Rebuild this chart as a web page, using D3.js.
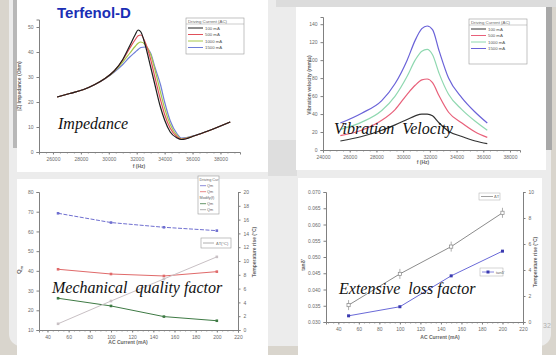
<!DOCTYPE html>
<html>
<head>
<meta charset="utf-8">
<script src="https://cdn.jsdelivr.net/npm/d3@7"></script>
<style>
  body { margin: 0; background: #d9d5cd; }
  svg { display: block; font-family: "Liberation Sans", Arial, sans-serif; }
</style>
</head>
<body>
<svg id="slide" width="556" height="355"></svg>
<script>
// ---- impedance panel (top left) ----
const zFreq = [26300, 27200, 28200, 29000, 29700, 30400, 31000, 31500, 31900, 32100, 32300, 32600, 33000, 33300, 33700, 34000, 34400, 34900, 35200, 36200, 37200, 38700];
const z100  = [22, 23.4, 25, 27, 29.3, 32.5, 37, 42.5, 47, 48.8, 48, 43, 34, 27, 18, 12.8, 8, 5.6, 5.0, 6.6, 8.6, 12];
const z500  = [22, 23.4, 25, 27, 29.3, 32.5, 36.8, 41.5, 45, 46.5, 46.8, 44, 37, 30, 21, 15, 9.5, 6, 5.1, 6.6, 8.6, 12];
const z1000 = [22, 23.4, 25, 27, 29.3, 32.3, 36, 39.5, 42.3, 43.5, 44, 43, 39, 33, 24, 17.5, 11, 6.5, 5.3, 6.6, 8.6, 12];
const z1500 = [22, 23.4, 25, 27, 29.2, 32, 35, 38, 40, 41, 41.8, 42, 39.5, 34, 27, 20, 12.5, 7.2, 5.6, 6.7, 8.6, 12];
const zFreqTicks = [26000, 28000, 30000, 32000, 34000, 36000, 38000];
const zTicks = [0, 10, 20, 30, 40, 50];

// ---- vibration velocity panel (top right) ----
const vFreq = [25300, 26900, 28400, 29400, 30300, 30900, 31400, 31800, 32200, 32700, 33400, 34400, 35400, 36300];
const v100  = [10, 15, 22, 28, 34, 38, 40, 40, 38, 30, 21, 15, 10, 7];
const v500  = [16, 22, 33, 45, 62, 72, 78, 79, 75, 60, 42, 30, 20, 14];
const v1000 = [23, 31, 44, 60, 82, 100, 110, 112, 106, 85, 62, 45, 32, 22];
const v1500 = [30, 41, 55, 74, 100, 122, 135, 138, 134, 110, 80, 58, 42, 30];
const vFreqTicks = [24000, 26000, 28000, 30000, 32000, 34000, 36000, 38000];
const vTicks = [0, 20, 40, 60, 80, 100, 120, 140];

const currentNames = ["100 mA", "500 mA", "1000 mA", "1500 mA"];
const seriesColors = ["#1e1e1e", "#e0505a", "#a8c848", "#6f7fd8"];
const vColors = ["#333333", "#e8607a", "#8fd8b0", "#6a62d8"];

// ---- mechanical quality factor panel (bottom left) ----
const acCurrent = [50, 100, 150, 200];
const qmA = [69.2, 64.5, 62.1, 60.4];
const qmB = [40.8, 38.4, 37.4, 39.6];
const qmC = [26.1, 22.2, 16.8, 14.7];
const qmTemp = [0.9, 4.2, 7.4, 10.6];
const currentTicks = [40, 60, 80, 100, 120, 140, 160, 180, 200, 220];
const qmTicks = [10, 20, 30, 40, 50, 60, 70, 80];
const tempTicksQ = [0, 2, 4, 6, 8, 10, 12, 14, 16, 18, 20];

// ---- extensive loss factor panel (bottom right) ----
const lossTan = [0.0319, 0.0347, 0.0442, 0.0518];
const lossTemp = [1.3, 3.7, 5.8, 8.4];
const lossTicks = [0.030, 0.035, 0.040, 0.045, 0.050, 0.055, 0.060, 0.065, 0.070];
const tempTicksL = [0, 2, 4, 6, 8, 10];

const svg = d3.select("#slide");

// slide card and panel frames
svg.append("rect").attr("x", 9).attr("y", -14).attr("width", 542).attr("height", 360)
  .attr("rx", 12).attr("fill", "#ececec");
svg.append("rect").attr("x", 546).attr("y", 0).attr("width", 6).attr("height", 150).attr("fill", "#a8a8a8");
svg.append("rect").attr("x", 13).attr("y", 0).attr("width", 4).attr("height", 148).attr("fill", "#b8b8b8");
svg.append("rect").attr("x", 268).attr("y", 140).attr("width", 29).attr("height", 36).attr("fill", "#dedede");
svg.append("rect").attr("x", 276).attr("y", 0).attr("width", 280).attr("height", 7).attr("fill", "#dcdcdc");

const panels = [[17, 0, 251, 172], [296, 7, 250, 163], [17, 179, 251, 176], [298, 178, 244, 177]];
svg.selectAll("rect.panel").data(panels).join("rect").attr("class", "panel")
  .attr("x", d => d[0]).attr("y", d => d[1]).attr("width", d => d[2]).attr("height", d => d[3])
  .attr("fill", "#ffffff");

function styleAxis(g) {
  g.attr("font-size", 5).attr("font-family", "Liberation Sans, Arial, sans-serif");
  g.selectAll("path, line").attr("stroke", "#808080");
  g.selectAll("text").attr("fill", "#6a6a6a");
}

function minorTicks(g, scale, y, n) {
  g.append("g").attr("transform", `translate(0,${y})`)
    .call(d3.axisBottom(scale).ticks(n).tickSize(1.5).tickFormat(""))
    .call(a => a.select(".domain").remove())
    .selectAll("line").attr("stroke", "#999");
}

function legendBox(g, x, y, w, h, title, names, colors) {
  g.append("rect").attr("x", x).attr("y", y).attr("width", w).attr("height", h)
    .attr("fill", "#fff").attr("stroke", "#9a9a9a").attr("stroke-width", 0.6);
  g.append("line").attr("x1", x).attr("x2", x + w).attr("y1", y + 6).attr("y2", y + 6)
    .attr("stroke", "#9a9a9a").attr("stroke-width", 0.5);
  g.append("text").attr("x", x + 2).attr("y", y + 4.8).attr("font-size", 4.3).attr("fill", "#666").text(title);
  names.forEach((nm, i) => {
    const yy = y + 10 + i * 6.5;
    g.append("line").attr("x1", x + 2).attr("x2", x + 17).attr("y1", yy).attr("y2", yy)
      .attr("stroke", colors[i]).attr("stroke-width", 1);
    g.append("text").attr("x", x + 19).attr("y", yy + 1.5).attr("font-size", 4.3).attr("fill", "#555").text(nm);
  });
}

function yLabel(g, x, y, txt) {
  g.append("text").attr("transform", `translate(${x},${y}) rotate(-90)`)
    .attr("text-anchor", "middle").attr("font-size", 5).attr("font-weight", "bold")
    .attr("fill", "#666").text(txt);
}

// ---------- panel 1: impedance ----------
const g1 = svg.append("g");
const x1 = d3.scaleLinear().domain([25000, 39400]).range([39, 240]);
const y1 = d3.scaleLinear().domain([0, 53]).range([152, 19.5]);
minorTicks(g1, x1, 152, 28);
g1.append("g").attr("transform", "translate(0,152)")
  .call(d3.axisBottom(x1).tickValues(zFreqTicks).tickSize(2.5).tickFormat(d3.format("d"))).call(styleAxis);
g1.append("g").attr("transform", "translate(39,0)")
  .call(d3.axisLeft(y1).tickValues(zTicks).tickSize(2.5)).call(styleAxis);
const line1 = d3.line().x((d, i) => x1(zFreq[i])).y(d => y1(d)).curve(d3.curveMonotoneX);
[z1500, z1000, z500, z100].forEach((s, k) => {
  g1.append("path").attr("d", line1(s)).attr("fill", "none")
    .attr("stroke", seriesColors[3 - k]).attr("stroke-width", 1.2);
});
g1.append("text").attr("x", 139).attr("y", 168).attr("text-anchor", "middle")
  .attr("font-size", 5).attr("font-weight", "bold").attr("fill", "#666").text("f (Hz)");
yLabel(g1, 21, 86, "|Z| Impedance (Ohm)");
legendBox(g1, 186, 18, 58, 36, "Driving Current (AC)", currentNames, seriesColors);
g1.append("text").attr("x", 57).attr("y", 18).attr("font-size", 15).attr("font-weight", "bold")
  .attr("fill", "#1b2fb5").text("Terfenol-D");
g1.append("text").attr("x", 58).attr("y", 129).attr("font-family", "Liberation Serif, serif")
  .attr("font-style", "italic").attr("font-size", 16).attr("fill", "#111").text("Impedance");

// ---------- panel 2: vibration velocity ----------
const g2 = svg.append("g");
const x2 = d3.scaleLinear().domain([24000, 38750]).range([323, 520]);
const y2 = d3.scaleLinear().domain([0, 148]).range([150, 17]);
minorTicks(g2, x2, 150, 30);
g2.append("g").attr("transform", "translate(0,150)")
  .call(d3.axisBottom(x2).tickValues(vFreqTicks).tickSize(2.5).tickFormat(d3.format("d"))).call(styleAxis);
g2.append("g").attr("transform", "translate(323,0)")
  .call(d3.axisLeft(y2).tickValues(vTicks).tickSize(2.5)).call(styleAxis);
const line2 = d3.line().x((d, i) => x2(vFreq[i])).y(d => y2(d)).curve(d3.curveMonotoneX);
[v100, v500, v1000, v1500].forEach((s, k) => {
  g2.append("path").attr("d", line2(s)).attr("fill", "none")
    .attr("stroke", vColors[k]).attr("stroke-width", 1.2);
});
g2.append("text").attr("x", 423).attr("y", 164).attr("text-anchor", "middle")
  .attr("font-size", 5).attr("font-weight", "bold").attr("fill", "#666").text("f (Hz)");
yLabel(g2, 311, 85, "Vibration velocity (mm/s)");
legendBox(g2, 469, 19, 58, 45, "Driving Current (AC)", currentNames, vColors);
g2.append("text").attr("x", 334).attr("y", 134).attr("font-family", "Liberation Serif, serif")
  .attr("font-style", "italic").attr("font-size", 16).attr("fill", "#111")
  .style("white-space", "pre").text("Vibration  Velocity");

// ---------- panel 3: mechanical quality factor ----------
const g3 = svg.append("g");
const x3 = d3.scaleLinear().domain([32, 220]).range([39, 238]);
const y3 = d3.scaleLinear().domain([10, 80]).range([330, 192]);
const y3r = d3.scaleLinear().domain([0, 20]).range([330, 192]);
minorTicks(g3, x3, 330, 38);
g3.append("g").attr("transform", "translate(0,330)")
  .call(d3.axisBottom(x3).tickValues(currentTicks).tickSize(2.5)).call(styleAxis);
g3.append("g").attr("transform", "translate(39,0)")
  .call(d3.axisLeft(y3).tickValues(qmTicks).tickSize(2.5)).call(styleAxis);
g3.append("g").attr("transform", "translate(238,0)")
  .call(d3.axisRight(y3r).tickValues(tempTicksQ).tickSize(2.5)).call(styleAxis);
const qSeries = [
  { v: qmA, c: "#6f6fd0", dash: "4,1.5", s: y3 },
  { v: qmB, c: "#e06a6a", dash: null, s: y3 },
  { v: qmC, c: "#3e7a44", dash: null, s: y3 },
  { v: qmTemp, c: "#c8c0c4", dash: null, s: y3r }
];
qSeries.forEach(q => {
  const ln = d3.line().x((d, i) => x3(acCurrent[i])).y(d => q.s(d));
  g3.append("path").attr("d", ln(q.v)).attr("fill", "none").attr("stroke", q.c)
    .attr("stroke-width", 1).attr("stroke-dasharray", q.dash);
  g3.selectAll(null).data(q.v).join("rect")
    .attr("x", (d, i) => x3(acCurrent[i]) - 1.3).attr("y", d => q.s(d) - 1.3)
    .attr("width", 2.6).attr("height", 2.6).attr("fill", q.c);
});
g3.append("text").attr("x", 128).attr("y", 344).attr("text-anchor", "middle")
  .attr("font-size", 5).attr("font-weight", "bold").attr("fill", "#666").text("AC Current (mA)");
g3.append("text").attr("transform", "translate(21,270) rotate(-90)").attr("text-anchor", "middle")
  .attr("font-size", 6).attr("font-weight", "bold").attr("fill", "#666")
  .call(t => { t.append("tspan").text("Q"); t.append("tspan").attr("font-size", 4).attr("dy", 1.5).text("m"); });
yLabel(g3, 256, 252, "Temperature rise (°C)");
const qLegend = svg.append("g");
qLegend.append("rect").attr("x", 198).attr("y", 176).attr("width", 21).attr("height", 38)
  .attr("fill", "#fff").attr("stroke", "#9a9a9a").attr("stroke-width", 0.6);
["Driving Cur", "Qm", "Qm", "Modify(f)", "Qm", "Qm"].forEach((t, i) => {
  const yy = 181 + i * 6;
  if (i !== 0 && i !== 3) {
    qLegend.append("line").attr("x1", 200).attr("x2", 206).attr("y1", yy - 1.3).attr("y2", yy - 1.3)
      .attr("stroke", [null, "#6f6fd0", "#e06a6a", null, "#3e7a44", "#999"][i]).attr("stroke-width", 0.8);
  }
  qLegend.append("text").attr("x", i === 0 || i === 3 ? 199.5 : 207).attr("y", yy)
    .attr("font-size", 3.8).attr("fill", "#666").text(t);
});
qLegend.append("rect").attr("x", 201).attr("y", 238).attr("width", 30).attr("height", 10)
  .attr("fill", "#fff").attr("stroke", "#9a9a9a").attr("stroke-width", 0.6);
qLegend.append("line").attr("x1", 203).attr("x2", 214).attr("y1", 243).attr("y2", 243)
  .attr("stroke", "#999").attr("stroke-width", 0.8);
qLegend.append("text").attr("x", 216).attr("y", 244.5).attr("font-size", 4).attr("fill", "#666").text("ΔT(°C)");
g3.append("text").attr("x", 52).attr("y", 293).attr("font-family", "Liberation Serif, serif")
  .attr("font-style", "italic").attr("font-size", 16).attr("fill", "#111")
  .style("white-space", "pre").text("Mechanical  quality factor");

// ---------- panel 4: extensive loss factor ----------
const g4 = svg.append("g");
const x4 = d3.scaleLinear().domain([28, 220]).range([326, 523]);
const y4 = d3.scaleLinear().domain([0.030, 0.070]).range([322, 192]);
const y4r = d3.scaleLinear().domain([0, 10]).range([322, 192]);
minorTicks(g4, x4, 322, 38);
g4.append("g").attr("transform", "translate(0,322)")
  .call(d3.axisBottom(x4).tickValues(currentTicks).tickSize(2.5)).call(styleAxis);
g4.append("g").attr("transform", "translate(326,0)")
  .call(d3.axisLeft(y4).tickValues(lossTicks).tickSize(2.5).tickFormat(d3.format(".3f"))).call(styleAxis);
g4.append("g").attr("transform", "translate(523,0)")
  .call(d3.axisRight(y4r).tickValues(tempTicksL).tickSize(2.5)).call(styleAxis);
const lnTemp = d3.line().x((d, i) => x4(acCurrent[i])).y(d => y4r(d));
const lnTan = d3.line().x((d, i) => x4(acCurrent[i])).y(d => y4(d));
g4.append("path").attr("d", lnTemp(lossTemp)).attr("fill", "none").attr("stroke", "#8c8c8c").attr("stroke-width", 1);
g4.append("path").attr("d", lnTan(lossTan)).attr("fill", "none").attr("stroke", "#6a6ad8").attr("stroke-width", 1);
g4.selectAll(null).data(lossTemp).join("line")
  .attr("x1", (d, i) => x4(acCurrent[i])).attr("x2", (d, i) => x4(acCurrent[i]))
  .attr("y1", d => y4r(d) - 5).attr("y2", d => y4r(d) + 5).attr("stroke", "#999").attr("stroke-width", 0.8);
g4.selectAll(null).data(lossTemp).join("rect")
  .attr("x", (d, i) => x4(acCurrent[i]) - 1.6).attr("y", d => y4r(d) - 1.6)
  .attr("width", 3.2).attr("height", 3.2).attr("fill", "#fff").attr("stroke", "#888").attr("stroke-width", 0.7);
g4.selectAll(null).data(lossTan).join("rect")
  .attr("x", (d, i) => x4(acCurrent[i]) - 1.5).attr("y", d => y4(d) - 1.5)
  .attr("width", 3).attr("height", 3).attr("fill", "#3a3ab0");
g4.append("text").attr("x", 440).attr("y", 339).attr("text-anchor", "middle")
  .attr("font-size", 5).attr("font-weight", "bold").attr("fill", "#666").text("AC Current (mA)");
yLabel(g4, 305, 265, "tanδ'");
yLabel(g4, 537, 262, "Temperature rise (°C)");
g4.append("rect").attr("x", 479).attr("y", 193).attr("width", 21).attr("height", 7)
  .attr("fill", "#fff").attr("stroke", "#aaa").attr("stroke-width", 0.5);
g4.append("line").attr("x1", 481).attr("x2", 493).attr("y1", 196.5).attr("y2", 196.5).attr("stroke", "#888").attr("stroke-width", 0.8);
g4.append("text").attr("x", 494).attr("y", 198).attr("font-size", 4).attr("fill", "#666").text("ΔT");
g4.append("rect").attr("x", 480).attr("y", 268).attr("width", 23).attr("height", 8)
  .attr("fill", "#fff").attr("stroke", "#aaa").attr("stroke-width", 0.5);
g4.append("line").attr("x1", 482).attr("x2", 494).attr("y1", 272).attr("y2", 272).attr("stroke", "#6a6ad8").attr("stroke-width", 0.8);
g4.append("rect").attr("x", 486.5).attr("y", 270.5).attr("width", 3).attr("height", 3).attr("fill", "#3a3ab0");
g4.append("text").attr("x", 496).attr("y", 274).attr("font-size", 4).attr("fill", "#666").text("tanδ'");
g4.append("text").attr("x", 339).attr("y", 294).attr("font-family", "Liberation Serif, serif")
  .attr("font-style", "italic").attr("font-size", 16).attr("fill", "#111")
  .style("white-space", "pre").text("Extensive  loss factor");

// page number
svg.append("text").attr("x", 543).attr("y", 328).attr("font-size", 7).attr("fill", "#b0b0b0").text("32");
</script>
</body>
</html>
